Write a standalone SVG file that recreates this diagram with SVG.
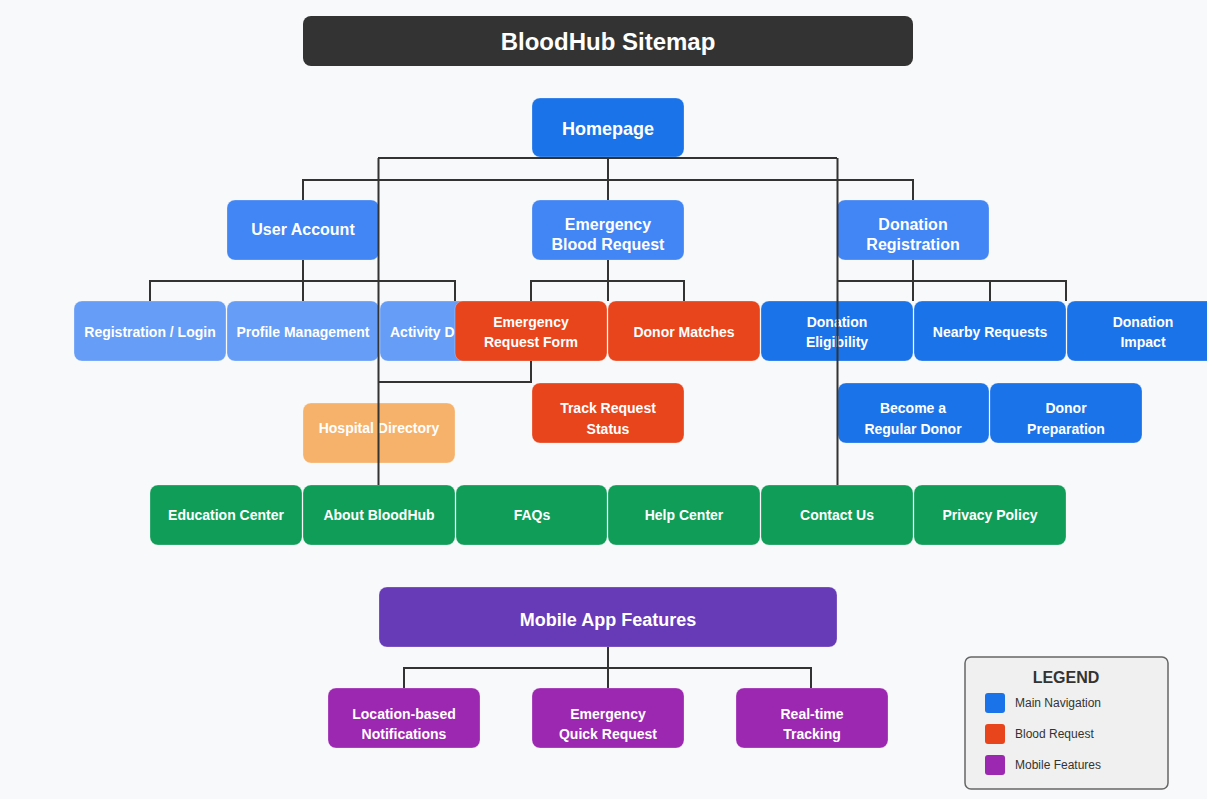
<svg xmlns="http://www.w3.org/2000/svg" width="1207" height="799" viewBox="0 0 1207 799">
<style>
.bg{fill:#f8f9fa}
.n{stroke:#ffffff;stroke-opacity:0.25;stroke-width:1}
.t{font-family:"Liberation Sans",Arial,sans-serif;font-weight:bold;fill:#ffffff;text-anchor:middle;dominant-baseline:central;font-size:14px}
.t16{font-size:16px}
.t18{font-size:18px}
.home{fill:#1a73e8}
.l2{fill:#4285f4}
.l3{fill:#669df6}
.blue{fill:#1a73e8}
.red{fill:#e8451c}
.orange{fill:#f6b26b}
.green{fill:#0f9d58}
.purple{fill:#673ab7}
.violet{fill:#9c27b0}
.c{fill:none;stroke:#333333;stroke-width:2}
.lg{font-family:"Liberation Sans",Arial,sans-serif;fill:#333333;font-size:12px;dominant-baseline:central}
</style>
<rect class="bg" x="0" y="0" width="1207" height="799"/>

<g id="title">
<rect x="303" y="16" width="610" height="50" rx="8" fill="#333333"/>
<text class="t" x="608" y="41" style="font-size:24px">BloodHub Sitemap</text>
</g>

<g id="homepage"><rect class="n home" x="532" y="98" width="152" height="59" rx="8"/><text class="t t18" x="608" y="129">Homepage</text></g>

<g id="user-account"><rect class="n l2" x="227" y="200" width="152" height="60" rx="8"/><text class="t t16" x="303" y="229">User Account</text></g>
<g id="emergency-blood-request"><rect class="n l2" x="532" y="200" width="152" height="60" rx="8"/><text class="t t16" x="608" y="224">Emergency</text><text class="t t16" x="608" y="244">Blood Request</text></g>
<g id="donation-registration"><rect class="n l2" x="837" y="200" width="152" height="60" rx="8"/><text class="t t16" x="913" y="224">Donation</text><text class="t t16" x="913" y="244">Registration</text></g>

<g id="registration-login"><rect class="n l3" x="74" y="301" width="152" height="60" rx="8"/><text class="t" x="150" y="332">Registration / Login</text></g>
<g id="profile-management"><rect class="n l3" x="227" y="301" width="152" height="60" rx="8"/><text class="t" x="303" y="332">Profile Management</text></g>
<g id="activity"><rect class="n l3" x="380" y="301" width="152" height="60" rx="8"/><text class="t" x="390" y="332" style="text-anchor:start">Activity D</text></g>
<g id="emergency-request-form"><rect class="n red" x="455" y="301" width="152" height="60" rx="8"/><text class="t" x="531" y="322">Emergency</text><text class="t" x="531" y="342">Request Form</text></g>
<g id="donor-matches"><rect class="n red" x="608" y="301" width="152" height="60" rx="8"/><text class="t" x="684" y="332">Donor Matches</text></g>
<g id="donation-eligibility"><rect class="n blue" x="761" y="301" width="152" height="60" rx="8"/><text class="t" x="837" y="322">Donation</text><text class="t" x="837" y="342">Eligibility</text></g>
<g id="nearby-requests"><rect class="n blue" x="914" y="301" width="152" height="60" rx="8"/><text class="t" x="990" y="332">Nearby Requests</text></g>
<g id="donation-impact"><rect class="n blue" x="1067" y="301" width="152" height="60" rx="8"/><text class="t" x="1143" y="322">Donation</text><text class="t" x="1143" y="342">Impact</text></g>

<g id="hospital-directory"><rect class="n orange" x="303" y="403" width="152" height="60" rx="8"/><text class="t" x="379" y="428">Hospital Directory</text></g>
<g id="track-request-status"><rect class="n red" x="532" y="383" width="152" height="60" rx="8"/><text class="t" x="608" y="408">Track Request</text><text class="t" x="608" y="429">Status</text></g>
<g id="become-regular-donor"><rect class="n blue" x="838" y="383" width="151" height="60" rx="8"/><text class="t" x="913" y="408">Become a</text><text class="t" x="913" y="429">Regular Donor</text></g>
<g id="donor-preparation"><rect class="n blue" x="990" y="383" width="152" height="60" rx="8"/><text class="t" x="1066" y="408">Donor</text><text class="t" x="1066" y="429">Preparation</text></g>

<g id="education-center"><rect class="n green" x="150" y="485" width="152" height="60" rx="8"/><text class="t" x="226" y="515">Education Center</text></g>
<g id="about-bloodhub"><rect class="n green" x="303" y="485" width="152" height="60" rx="8"/><text class="t" x="379" y="515">About BloodHub</text></g>
<g id="faqs"><rect class="n green" x="456" y="485" width="151" height="60" rx="8"/><text class="t" x="532" y="515">FAQs</text></g>
<g id="help-center"><rect class="n green" x="608" y="485" width="152" height="60" rx="8"/><text class="t" x="684" y="515">Help Center</text></g>
<g id="contact-us"><rect class="n green" x="761" y="485" width="152" height="60" rx="8"/><text class="t" x="837" y="515">Contact Us</text></g>
<g id="privacy-policy"><rect class="n green" x="914" y="485" width="152" height="60" rx="8"/><text class="t" x="990" y="515">Privacy Policy</text></g>

<g id="mobile-app-features"><rect class="n purple" x="379" y="587" width="458" height="60" rx="8"/><text class="t t18" x="608" y="620">Mobile App Features</text></g>
<g id="location-notifications"><rect class="n violet" x="328" y="688" width="152" height="60" rx="8"/><text class="t" x="404" y="714">Location-based</text><text class="t" x="404" y="734">Notifications</text></g>
<g id="emergency-quick-request"><rect class="n violet" x="532" y="688" width="152" height="60" rx="8"/><text class="t" x="608" y="714">Emergency</text><text class="t" x="608" y="734">Quick Request</text></g>
<g id="realtime-tracking"><rect class="n violet" x="736" y="688" width="152" height="60" rx="8"/><text class="t" x="812" y="714">Real-time</text><text class="t" x="812" y="734">Tracking</text></g>

<g id="connectors">
<path class="c" d="M608,157 V200"/>
<path class="c" d="M378,158 H837"/>
<path class="c" d="M303,200 V180 H913 V200"/>
<path class="c" d="M378.5,158 V485"/>
<path class="c" d="M837.5,158 V485"/>
<path class="c" d="M303,260 V301"/>
<path class="c" d="M150,301 V281 H455 V301"/>
<path class="c" d="M608,260 V301"/>
<path class="c" d="M531,301 V281 H684 V301"/>
<path class="c" d="M531,361 V382 H378"/>
<path class="c" d="M913,260 V301"/>
<path class="c" d="M837,281 H1066 V301"/>
<path class="c" d="M990,281 V301"/>
<path class="c" d="M608,647 V688"/>
<path class="c" d="M404,688 V668 H811 V688"/>
</g>

<g id="legend">
<rect x="965" y="657" width="203" height="132" rx="6" fill="#f0f0f0" stroke="#666666" stroke-width="1.5"/>
<text x="1066" y="677" style="font-family:'Liberation Sans',Arial,sans-serif;font-weight:bold;font-size:16px;fill:#333333;text-anchor:middle;dominant-baseline:central">LEGEND</text>
<rect x="985" y="693" width="20" height="20" rx="3" fill="#1a73e8"/>
<text class="lg" x="1015" y="703">Main Navigation</text>
<rect x="985" y="724" width="20" height="20" rx="3" fill="#e8451c"/>
<text class="lg" x="1015" y="734">Blood Request</text>
<rect x="985" y="755" width="20" height="20" rx="3" fill="#9c27b0"/>
<text class="lg" x="1015" y="765">Mobile Features</text>
</g>
</svg>
